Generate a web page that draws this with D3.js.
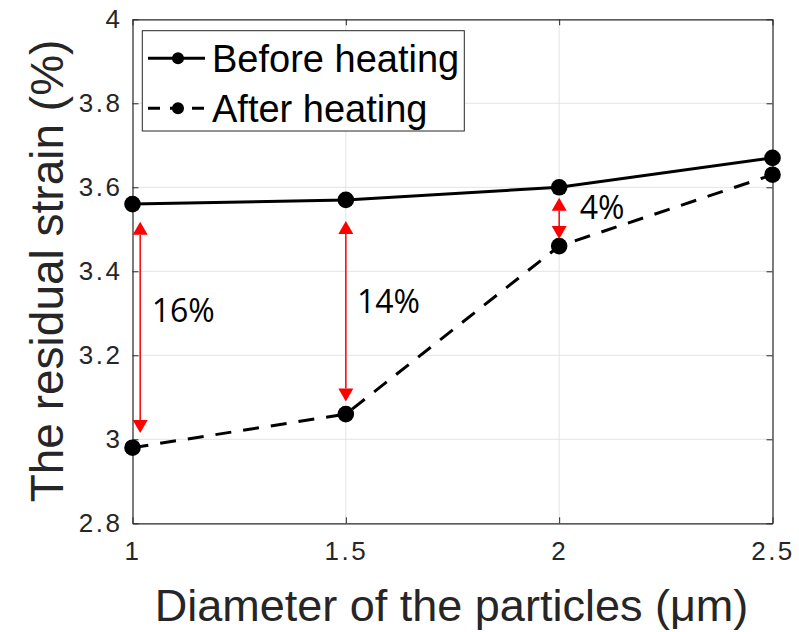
<!DOCTYPE html>
<html>
<head>
<meta charset="utf-8">
<script src="https://cdn.jsdelivr.net/npm/d3@7"></script>
<style>
  html, body { margin: 0; padding: 0; background: #fff; }
  svg { display: block; }
</style>
</head>
<body>
<svg id="chart" width="799" height="632"></svg>
<script>
// Particle diameters (µm) and residual strain (%) before / after heating
const diameters = [1, 1.5, 2, 2.5];
const beforeHeating = [3.56, 3.57, 3.60, 3.67];
const afterHeating = [2.98, 3.06, 3.46, 3.63];

const xTicks = [1, 1.5, 2, 2.5];
const yTicks = [2.8, 3, 3.2, 3.4, 3.6, 3.8, 4];

const seriesNames = ["Before heating", "After heating"];

// Red double arrows marking the drop, with their percentage labels
const arrowX = [1.018, 1.5, 2];
const arrowTop = [3.518, 3.52, 3.575];
const arrowBottom = [3.015, 3.09, 3.477];
const dropLabels = ["16%", "14%", "4%"];
const dropLabelX = [1.045, 1.526, 2.048];
const dropLabelY = [3.28, 3.30, 3.525];

const margin = { left: 132.5, right: 799 - 772.5, top: 19.3, bottom: 632 - 523.3 };
const W = 799, H = 632;
const svg = d3.select("#chart");

const x = d3.scaleLinear().domain([1, 2.5]).range([margin.left, W - margin.right]);
const y = d3.scaleLinear().domain([2.8, 4]).range([H - margin.bottom, margin.top]);

const axisColor = "#262626";

// grid
const g = svg.append("g");
g.selectAll(".gx").data(xTicks.slice(1, -1)).enter().append("line")
  .attr("x1", d => x(d)).attr("x2", d => x(d))
  .attr("y1", y(2.8)).attr("y2", y(4))
  .attr("stroke", "#e3e3e3").attr("stroke-width", 1);
g.selectAll(".gy").data(yTicks.slice(1, -1)).enter().append("line")
  .attr("x1", x(1)).attr("x2", x(2.5))
  .attr("y1", d => y(d)).attr("y2", d => y(d))
  .attr("stroke", "#e3e3e3").attr("stroke-width", 1);

// axes (ticks point inward)
const xAxis = d3.axisBottom(x).tickValues(xTicks).tickFormat(d3.format("")).tickSizeInner(-6).tickSizeOuter(0).tickPadding(20);
const yAxis = d3.axisLeft(y).tickValues(yTicks).tickFormat(d3.format("")).tickSizeInner(-6).tickSizeOuter(0).tickPadding(12);

const gx = svg.append("g").attr("transform", `translate(0,${y(2.8)})`).call(xAxis);
const gy = svg.append("g").attr("transform", `translate(${x(1)},0)`).call(yAxis);
// mirrored ticks on top / right
svg.append("g").attr("transform", `translate(0,${y(4)})`)
  .call(d3.axisTop(x).tickValues(xTicks).tickFormat("").tickSizeInner(-6).tickSizeOuter(0));
svg.append("g").attr("transform", `translate(${x(2.5)},0)`)
  .call(d3.axisRight(y).tickValues(yTicks).tickFormat("").tickSizeInner(-6).tickSizeOuter(0));

svg.selectAll(".domain").attr("stroke", axisColor).attr("stroke-width", 1.2);
svg.selectAll(".tick line").attr("stroke", axisColor).attr("stroke-width", 1);
svg.selectAll(".tick text")
  .attr("fill", axisColor)
  .style("font-family", "'Liberation Sans', Arial, sans-serif")
  .style("font-size", "26px")
  .style("letter-spacing", "2.5px");
gx.selectAll(".tick text").attr("dy", "0.66em");
gy.selectAll(".tick text").attr("dx", "2px");

// axis titles
svg.append("text")
  .attr("x", (x(1) + x(2.5)) / 2 - 1).attr("y", 621)
  .attr("text-anchor", "middle")
  .attr("fill", axisColor)
  .style("font-family", "'Liberation Sans', Arial, sans-serif")
  .style("font-size", "45px")
  .text("Diameter of the particles (μm)");

svg.append("text")
  .attr("transform", `translate(63,${271}) rotate(-90)`)
  .attr("text-anchor", "middle")
  .attr("fill", axisColor)
  .style("font-family", "'Liberation Sans', Arial, sans-serif")
  .style("font-size", "46px")
  .text("The residual strain (%)");

// series lines
const line = d3.line().x(d => x(d[0])).y(d => y(d[1]));
const beforePts = diameters.map((d, i) => [d, beforeHeating[i]]);
const afterPts = diameters.map((d, i) => [d, afterHeating[i]]);

svg.append("path").datum(beforePts).attr("d", line)
  .attr("fill", "none").attr("stroke", "#000").attr("stroke-width", 3);
svg.append("path").datum(afterPts).attr("d", line)
  .attr("fill", "none").attr("stroke", "#000").attr("stroke-width", 3)
  .attr("stroke-dasharray", "16,12");

[beforePts, afterPts].forEach(pts => {
  svg.append("g").selectAll("circle").data(pts).enter().append("circle")
    .attr("cx", d => x(d[0])).attr("cy", d => y(d[1])).attr("r", 8.3)
    .attr("fill", "#000");
});

// red double arrows
const red = "#ff0000";
const headW = 15, headH = 13;
arrowX.forEach((ax, i) => {
  const px = x(ax), yt = y(arrowTop[i]), yb = y(arrowBottom[i]);
  svg.append("line")
    .attr("x1", px).attr("x2", px).attr("y1", yt + headH).attr("y2", yb - headH)
    .attr("stroke", red).attr("stroke-width", 1.5);
  svg.append("path")
    .attr("d", `M${px},${yt} L${px - headW / 2},${yt + headH} L${px + headW / 2},${yt + headH} Z`)
    .attr("fill", red);
  svg.append("path")
    .attr("d", `M${px},${yb} L${px - headW / 2},${yb - headH} L${px + headW / 2},${yb - headH} Z`)
    .attr("fill", red);
  svg.append("text")
    .attr("x", x(dropLabelX[i])).attr("y", y(dropLabelY[i]))
    .attr("fill", "#000")
    .style("font-family", "'Open Sans', sans-serif")
    .style("font-size", "32px")
    .text(dropLabels[i]);
});

// legend
const lg = svg.append("g");
lg.append("rect")
  .attr("x", 142.3).attr("y", 30.7).attr("width", 322).attr("height", 100.3)
  .attr("fill", "#fff").attr("stroke", axisColor).attr("stroke-width", 1);
const legendRows = [58.3, 108.3];
seriesNames.forEach((name, i) => {
  const ly = legendRows[i];
  lg.append("line")
    .attr("x1", 148).attr("x2", 205).attr("y1", ly).attr("y2", ly)
    .attr("stroke", "#000").attr("stroke-width", 3)
    .attr("stroke-dasharray", i === 1 ? "12,10" : null);
  lg.append("circle").attr("cx", 178).attr("cy", ly).attr("r", 6).attr("fill", "#000");
  lg.append("text")
    .attr("x", 212).attr("y", ly + 14)
    .attr("fill", "#000")
    .style("font-family", "'Liberation Sans', Arial, sans-serif")
    .style("font-size", "38px")
    .text(name);
});
</script>
</body>
</html>
